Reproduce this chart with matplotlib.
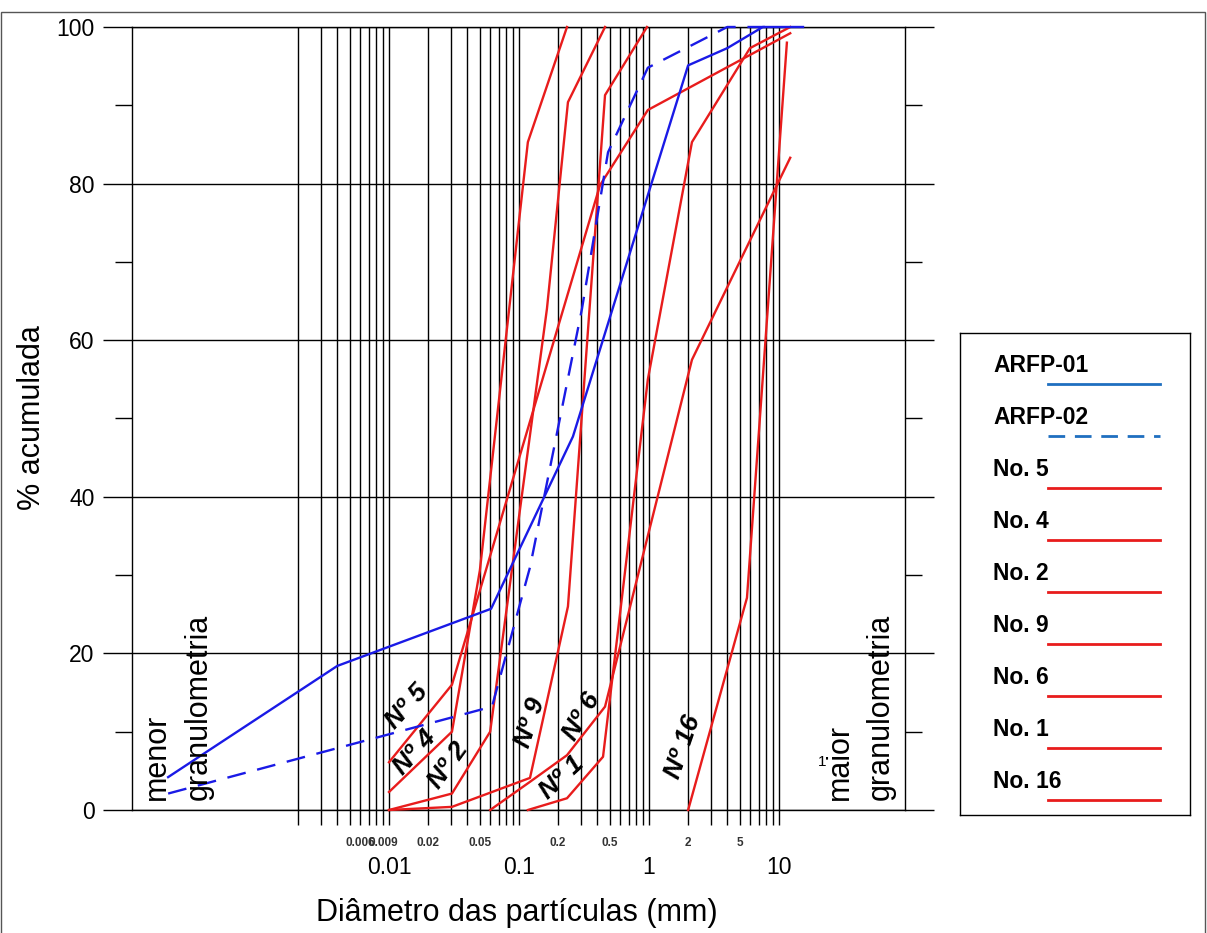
import matplotlib
matplotlib.use("Agg")
import matplotlib.pyplot as plt
from matplotlib.lines import Line2D
from matplotlib.patches import Rectangle
from matplotlib.ticker import NullLocator

plt.rcParams['font.family'] = ['Liberation Sans', 'DejaVu Sans']

# curvas granulometricas (diametro em mm, % acumulada)
arfp01_d = [0.0002, 0.004, 0.061, 0.26, 2.0, 4.0, 7.5, 15.3]
arfp01_p = [4.2, 18.4, 25.7, 47.7, 95.1, 97.3, 100, 100]
arfp02_d = [0.0002, 0.062, 0.1215, 0.305, 0.484, 0.98, 4.0, 7.8]
arfp02_p = [2.1, 13.2, 31, 64, 84, 94.8, 100, 100]

n5_d = [0.01, 0.0305, 0.42, 0.98, 12.2]
n5_p = [6.1, 16, 79.8, 89.4, 99.2]
n4_d = [0.01, 0.0305, 0.050, 0.117, 0.234]
n4_p = [2.3, 10, 30.6, 85.3, 100]
n2_d = [0.01, 0.0305, 0.060, 0.164, 0.238, 0.459]
n2_p = [0, 2.1, 10, 64, 90.4, 100]
n9_d = [0.01, 0.0305, 0.1215, 0.238, 0.459, 0.965]
n9_p = [0, 0.4, 4.1, 26, 91.3, 100]
n6_d = [0.060, 0.1215, 0.234, 0.459, 2.14, 12.2]
n6_p = [0, 3.6, 7, 13.2, 57.5, 83.3]
n1_d = [0.117, 0.234, 0.443, 0.98, 2.14, 5.98, 12.2]
n1_p = [0, 1.5, 6.8, 55, 85.3, 97.3, 100]
n16_d = [2.0, 5.67, 11.5]
n16_p = [0, 27.1, 98]

small_ticks = [0.006, 0.009, 0.02, 0.05, 0.2, 0.5, 2, 5]
small_labels = ['0.006', '0.009', '0.02', '0.05', '0.2', '0.5', '2', '5']
big_ticks = [0.01, 0.1, 1, 10]
big_labels = ['0.01', '0.1', '1', '10']

# rotulos das curvas: texto, diametro, %, angulo
curve_labels = [('Nº 5', 0.01375, 13.2, 48), ('Nº 4', 0.01585, 7.3, 48),
                ('Nº 2', 0.0284, 5.7, 54), ('Nº 9', 0.1215, 11.1, 72),
                ('Nº 6', 0.305, 11.9, 60), ('Nº 1', 0.214, 4.1, 43),
                ('Nº 16', 1.83, 8.0, 71)]

legend_names = ['ARFP-01', 'ARFP-02', 'No. 5', 'No. 4', 'No. 2', 'No. 9',
                'No. 6', 'No. 1', 'No. 16']

RED = '#e81c1c'
BLUE = '#1a1ae6'
W, H = 1207, 933

fig = plt.figure(figsize=(W / 100, H / 100), dpi=100)
ax = fig.add_axes([132 / W, 1 - 810 / H, (905 - 132) / W, (810 - 27) / H])
ax.set_xscale('log')
ax.set_xlim(10 ** ((132 - 649) / 130), 10 ** ((905 - 649) / 130))
ax.set_ylim(0, 100)

grid_x = [m * 10 ** e for e in range(-3, 1) for m in range(1, 10)][1:] + [10]
ax.set_xticks(grid_x)
ax.set_xticklabels([])
ax.xaxis.set_minor_locator(NullLocator())
ax.tick_params(axis='x', which='major', direction='out', length=11, width=1)
ax.grid(axis='x', which='major', color='black', lw=1)

ax.set_yticks(range(0, 101, 20))
ax.set_yticks(range(10, 100, 20), minor=True)
ax.tick_params(axis='y', which='both', left=True, right=True, direction='out', width=1)
ax.tick_params(axis='y', which='major', length=21, labelsize=16.5, pad=6)
ax.tick_params(axis='y', which='minor', length=12)
ax.grid(axis='y', which='major', color='black', lw=1)
for s in ax.spines.values():
    s.set_linewidth(1)

ax.plot(arfp01_d, arfp01_p, color=BLUE, lw=1.7, clip_on=False, zorder=4)
ax.plot(arfp02_d, arfp02_p, color=BLUE, lw=1.7, dashes=(8, 5), clip_on=False, zorder=4)
for d, p in [(n5_d, n5_p), (n4_d, n4_p), (n2_d, n2_p), (n9_d, n9_p),
             (n6_d, n6_p), (n1_d, n1_p), (n16_d, n16_p)]:
    ax.plot(d, p, color=RED, lw=1.7, clip_on=False, zorder=3)

for t, x, y, r in curve_labels:
    ax.text(x, y, t, rotation=r, ha='center', va='center', fontsize=19,
            fontweight='bold', fontstyle='italic', zorder=5)

for v, t in zip(small_ticks, small_labels):
    ax.text(v, -4.2, t, ha='center', va='center', fontsize=8.5,
            fontweight='bold', color='#333333')
for v, t in zip(big_ticks, big_labels):
    ax.text(v, -7.4, t, ha='center', va='center', fontsize=16.5)

fig.text(517 / W, 1 - 913 / H, 'Diâmetro das partículas (mm)', ha='center',
         va='center', fontsize=22)
fig.text(32 / W, 1 - 418 / H, '% acumulada', rotation=90, ha='center',
         va='center', fontsize=22)

fig.text(157 / W, 1 - 800 / H, 'menor', rotation=90, ha='center', va='bottom', fontsize=22)
fig.text(199 / W, 1 - 800 / H, 'granulometria', rotation=90, ha='center', va='bottom', fontsize=22)
fig.text(840 / W, 1 - 800 / H, 'maior', rotation=90, ha='center', va='bottom', fontsize=22)
fig.text(881 / W, 1 - 800 / H, 'granulometria', rotation=90, ha='center', va='bottom', fontsize=22)
fig.text(822 / W, 1 - 762 / H, '1', ha='center', va='center', fontsize=11)

# legenda desenhada a mao
lg = fig.add_axes([960 / W, 1 - 815 / H, 230 / W, 482 / H])
lg.set_xlim(0, 230)
lg.set_ylim(482, 0)
lg.set_xticks([])
lg.set_yticks([])
for s in lg.spines.values():
    s.set_linewidth(1)
for i, name in enumerate(legend_names):
    y = 32 + 52 * i
    lg.text(33, y, name, ha='left', va='center', fontsize=16.5, fontweight='bold')
    if i < 2:
        style = dict(color='#1f6fc0', dashes=(6, 3.5)) if i == 1 else dict(color='#1f6fc0')
    else:
        style = dict(color=RED)
    lg.add_line(Line2D([88, 200], [y + 19, y + 19], lw=2, **style))

fig.patches.append(Rectangle((1 / W, -0.01), 1 - 3 / W, 1 - 12 / H + 0.01,
                             transform=fig.transFigure, fill=False,
                             edgecolor='#555555', lw=1))

fig.savefig('out.png', dpi=100)
